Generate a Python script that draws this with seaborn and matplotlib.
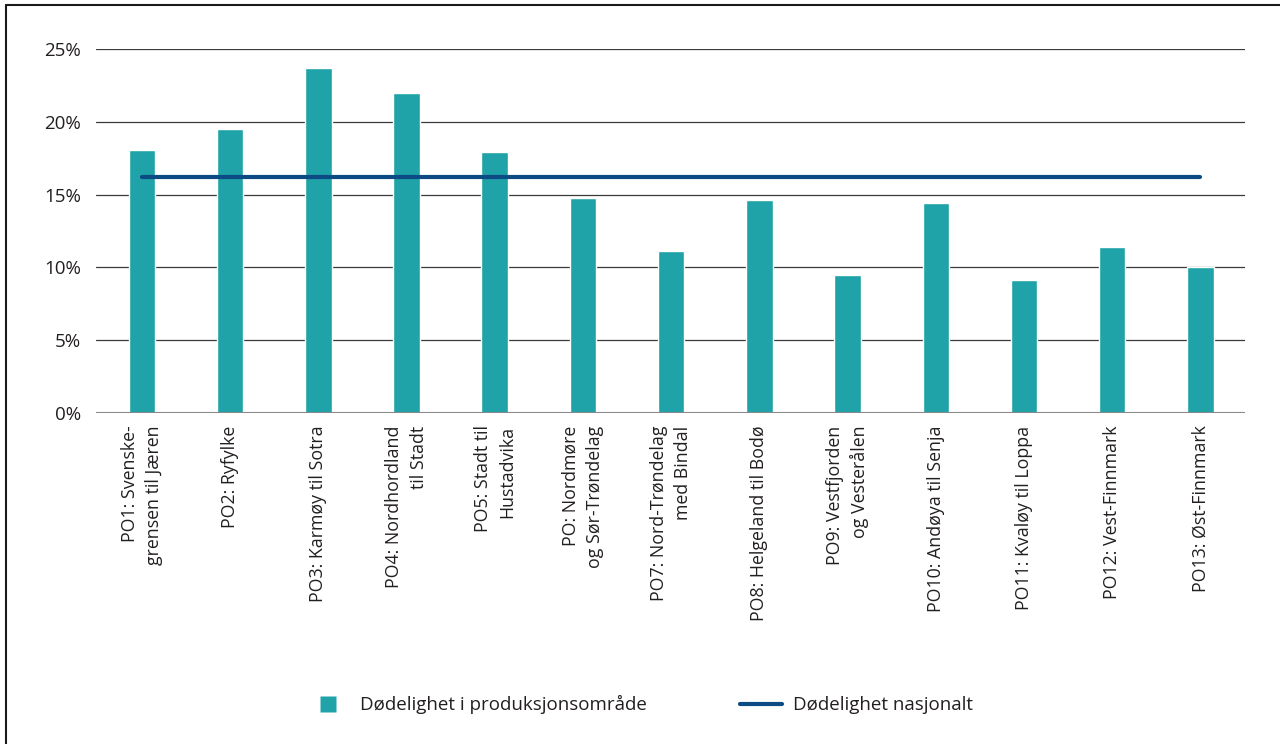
import matplotlib
matplotlib.use("Agg")
import matplotlib.pyplot as plt
import seaborn as sns
import pandas as pd
from matplotlib.lines import Line2D
from matplotlib.ticker import FuncFormatter

# Mortality per production area (percent)
areas = [
    "PO1: Svenske-\ngrensen til Jæren",
    "PO2: Ryfylke",
    "PO3: Karmøy til Sotra",
    "PO4: Nordhordland\ntil Stadt",
    "PO5: Stadt til\nHustadvika",
    "PO: Nordmøre\nog Sør-Trøndelag",
    "PO7: Nord-Trøndelag\nmed Bindal",
    "PO8: Helgeland til Bodø",
    "PO9: Vestfjorden\nog Vesterålen",
    "PO10: Andøya til Senja",
    "PO11: Kvaløy til Loppa",
    "PO12: Vest-Finnmark",
    "PO13: Øst-Finnmark",
]
area_mortality = [18.1, 19.5, 23.7, 22.0, 17.9, 14.8, 11.1, 14.6, 9.5, 14.4, 9.1, 11.4, 10.0]
national_mortality = [16.2] * len(areas)
y_ticks = [0, 5, 10, 15, 20, 25]

bar_color = "#1fa3a9"
line_color = "#0b4a82"
text_color = "#231f20"

sns.set_style("white")
plt.rcParams["font.family"] = ["Open Sans", "DejaVu Sans"]

df = pd.DataFrame({"area": areas, "value": area_mortality,
                   "pos": range(len(areas)), "national": national_mortality})

fig = plt.figure(figsize=(12.8, 7.44), dpi=100)
ax = fig.add_axes([0.075, 0.445, 0.898, 0.489])

sns.barplot(data=df, x="area", y="value", color=bar_color, width=0.3,
            saturation=1, ax=ax, zorder=3)
sns.lineplot(data=df, x="pos", y="national", color=line_color, linewidth=3,
             ax=ax, zorder=4, solid_capstyle="round")

ax.set_ylim(0, 25)
ax.set_xlim(-0.52, 12.51)
ax.set_yticks(y_ticks)
ax.yaxis.set_major_formatter(FuncFormatter(lambda v, p: f"{v:.0f}%"))
ax.grid(axis="y", color="#3a3a3a", linewidth=0.9, zorder=0)
ax.set_xlabel("")
ax.set_ylabel("")
for s in ax.spines.values():
    s.set_visible(False)
ax.axhline(0, color="#888888", linewidth=1.5, zorder=5)

ax.tick_params(axis="y", length=0, pad=11, labelsize=13.5, labelcolor=text_color)
ax.tick_params(axis="x", length=0, pad=9, labelsize=12.8, labelcolor=text_color)
for lab in ax.get_xticklabels():
    lab.set_rotation(90)
    lab.set_ha("center")
    lab.set_va("top")
    lab.set_multialignment("right")
    lab.set_linespacing(1.45)

# frame around the figure (left and top edges)
fig.add_artist(Line2D([0.0045, 0.0045], [0, 0.993], transform=fig.transFigure,
                      color="#1a1a1a", linewidth=1.5))
fig.add_artist(Line2D([0.0045, 1], [0.993, 0.993], transform=fig.transFigure,
                      color="#1a1a1a", linewidth=1.5))

handles = [
    Line2D([0], [0], marker="s", linestyle="none", markersize=11,
           markerfacecolor=bar_color, markeredgecolor="none"),
    Line2D([0], [0], color=line_color, linewidth=3, solid_capstyle="round"),
]
labels = ["Dødelighet i produksjonsområde", "Dødelighet nasjonalt"]
fig.legend(handles, labels, loc="center", bbox_to_anchor=(0.5, 0.053), ncol=2,
           frameon=False, fontsize=13.5, columnspacing=5.0, handlelength=2.2,
           handletextpad=0.6, labelcolor=text_color)

fig.savefig("out.png", dpi=100)
